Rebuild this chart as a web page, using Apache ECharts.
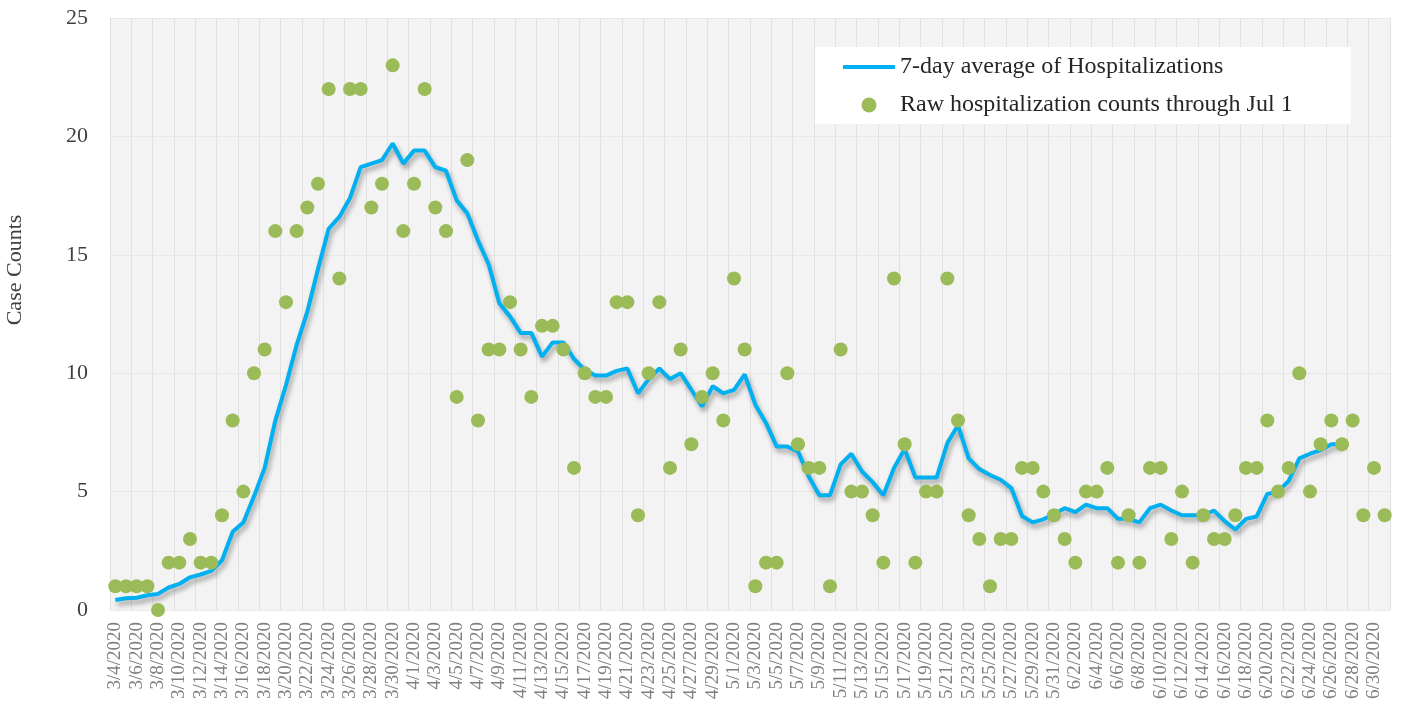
<!DOCTYPE html>
<html>
<head>
<meta charset="utf-8">
<script src="https://cdn.jsdelivr.net/npm/echarts@6/dist/echarts.min.js"></script>
<style>
html,body{margin:0;padding:0;background:#fff;}
#chart{width:1401px;height:707px;}
</style>
</head>
<body>
<div id="chart"></div>
<script>
const categories = [
'3/4/2020','3/5/2020','3/6/2020','3/7/2020','3/8/2020','3/9/2020','3/10/2020','3/11/2020','3/12/2020','3/13/2020',
'3/14/2020','3/15/2020','3/16/2020','3/17/2020','3/18/2020','3/19/2020','3/20/2020','3/21/2020','3/22/2020','3/23/2020',
'3/24/2020','3/25/2020','3/26/2020','3/27/2020','3/28/2020','3/29/2020','3/30/2020','3/31/2020','4/1/2020','4/2/2020',
'4/3/2020','4/4/2020','4/5/2020','4/6/2020','4/7/2020','4/8/2020','4/9/2020','4/10/2020','4/11/2020','4/12/2020',
'4/13/2020','4/14/2020','4/15/2020','4/16/2020','4/17/2020','4/18/2020','4/19/2020','4/20/2020','4/21/2020','4/22/2020',
'4/23/2020','4/24/2020','4/25/2020','4/26/2020','4/27/2020','4/28/2020','4/29/2020','4/30/2020','5/1/2020','5/2/2020',
'5/3/2020','5/4/2020','5/5/2020','5/6/2020','5/7/2020','5/8/2020','5/9/2020','5/10/2020','5/11/2020','5/12/2020',
'5/13/2020','5/14/2020','5/15/2020','5/16/2020','5/17/2020','5/18/2020','5/19/2020','5/20/2020','5/21/2020','5/22/2020',
'5/23/2020','5/24/2020','5/25/2020','5/26/2020','5/27/2020','5/28/2020','5/29/2020','5/30/2020','5/31/2020','6/1/2020',
'6/2/2020','6/3/2020','6/4/2020','6/5/2020','6/6/2020','6/7/2020','6/8/2020','6/9/2020','6/10/2020','6/11/2020',
'6/12/2020','6/13/2020','6/14/2020','6/15/2020','6/16/2020','6/17/2020','6/18/2020','6/19/2020','6/20/2020','6/21/2020',
'6/22/2020','6/23/2020','6/24/2020','6/25/2020','6/26/2020','6/27/2020','6/28/2020','6/29/2020','6/30/2020','7/1/2020'
];

const rawCounts = [
1,1,1,1,0,2,2,3,2,2,
4,8,5,10,11,16,13,16,17,18,
22,14,22,22,17,18,23,16,18,22,
17,16,9,19,8,11,11,13,11,9,
12,12,11,6,10,9,9,13,13,4,
10,13,6,11,7,9,10,8,14,11,
1,2,2,10,7,6,6,1,11,5,
5,4,2,14,7,2,5,5,14,8,
4,3,1,3,3,6,6,5,4,3,
2,5,5,6,2,4,2,6,6,3,
5,2,4,3,3,4,6,6,8,5,
6,10,5,7,8,7,8,4,6,4
];

const avg7 = [
0.42,0.5,0.52,0.62,0.68,0.95,1.1,1.38,1.5,1.65,
2.1,3.3,3.7,4.8,6.0,8.0,9.5,11.2,12.6,14.4,
16.1,16.6,17.4,18.7,18.85,19.0,19.7,18.85,19.4,19.4,
18.7,18.55,17.3,16.75,15.6,14.6,12.95,12.4,11.7,11.7,
10.7,11.3,11.3,10.6,10.15,9.9,9.9,10.1,10.2,9.15,
9.75,10.2,9.75,10.0,9.3,8.6,9.45,9.15,9.3,9.95,
8.67,7.9,6.9,6.9,6.7,5.65,4.85,4.85,6.15,6.6,
5.85,5.4,4.85,6.0,6.8,5.6,5.6,5.6,7.05,7.8,
6.4,5.95,5.7,5.5,5.15,3.97,3.7,3.83,4.05,4.3,
4.13,4.45,4.3,4.3,3.85,3.85,3.7,4.3,4.45,4.2,
4.0,4.0,4.0,4.2,3.75,3.4,3.85,3.95,4.9,5.0,
5.45,6.4,6.6,6.75,7.0,7.0,null,null,null,null
];

const yTicks = { min: 0, max: 25, interval: 5 };
const seriesNames = ['7-day average of Hospitalizations', 'Raw hospitalization counts through Jul 1'];

const chart = echarts.init(document.getElementById('chart'), null, { renderer: 'canvas' });
chart.setOption({
  animation: false,
  backgroundColor: '#ffffff',
  grid: {
    left: 110, right: 11, top: 18, bottom: 97,
    outerBoundsMode: 'none',
    containLabel: false,
    show: true, backgroundColor: '#f3f3f3', borderWidth: 0
  },
  legend: {
    orient: 'vertical',
    left: 815, top: 47,
    backgroundColor: '#ffffff',
    padding: [8, 58, 7, 28],
    itemGap: 14,
    itemWidth: 52, itemHeight: 15,
    textStyle: { fontFamily: 'Liberation Serif', fontSize: 24, color: '#262626' },
    data: [
      { name: seriesNames[0], icon: 'path://M0,0L52,0L52,4L0,4Z' },
      { name: seriesNames[1], icon: 'circle' }
    ]
  },
  xAxis: {
    type: 'category',
    data: categories,
    boundaryGap: true,
    axisLine: { show: true, lineStyle: { color: '#e9e9e9', width: 1 } },
    axisTick: { show: false },
    axisLabel: {
      interval: 1, rotate: 90, margin: 12,
      fontFamily: 'Liberation Serif', fontSize: 19, color: '#808080'
    },
    splitLine: { show: true, interval: 1, lineStyle: { color: '#e1e1e1', width: 1 } }
  },
  yAxis: {
    type: 'value',
    min: yTicks.min, max: yTicks.max, interval: yTicks.interval,
    name: 'Case Counts',
    nameLocation: 'middle',
    nameGap: 84,
    nameTextStyle: { fontFamily: 'Liberation Serif', fontSize: 22, color: '#404040', padding: [0, 0, 0, 88] },
    axisLine: { show: false },
    axisTick: { show: false },
    axisLabel: { margin: 22, fontFamily: 'Liberation Serif', fontSize: 22, color: '#404040' },
    splitLine: { show: true, lineStyle: { color: '#e8e8e8', width: 1 } }
  },
  series: [
    {
      name: seriesNames[0],
      type: 'line',
      data: avg7,
      symbol: 'none',
      z: 2,
      itemStyle: { color: '#00b0f0' },
      lineStyle: {
        color: '#00b0f0', width: 4,
        shadowColor: 'rgba(0,0,0,0.35)', shadowBlur: 5, shadowOffsetX: 2, shadowOffsetY: 4
      }
    },
    {
      name: seriesNames[1],
      type: 'scatter',
      data: rawCounts,
      symbol: 'circle',
      symbolSize: 14,
      z: 3,
      itemStyle: { color: '#9bbb59', opacity: 1 }
    }
  ]
});
</script>
</body>
</html>
